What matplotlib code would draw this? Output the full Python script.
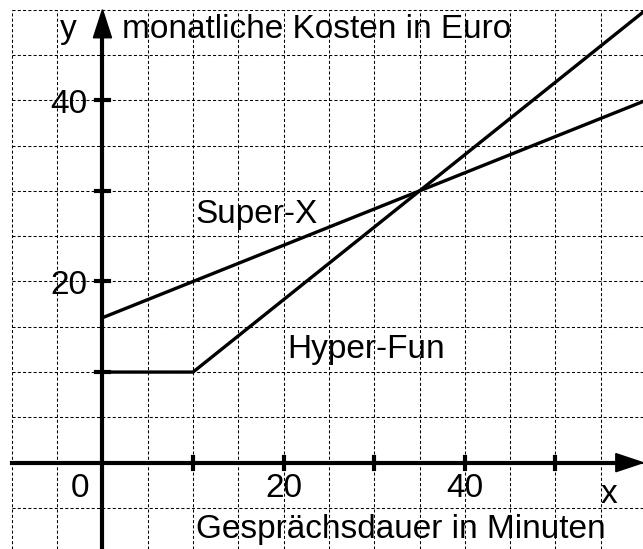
import numpy as np
import matplotlib
matplotlib.use("Agg")
import matplotlib.pyplot as plt
from matplotlib.patches import Polygon

plt.rcParams['font.family'] = ['Liberation Sans', 'DejaVu Sans']
plt.rcParams['lines.scale_dashes'] = False

# --- Daten ---
super_x_min = [0, 60]
super_x_kosten = [16, 40]
hyper_min = [0, 10, 60]
hyper_kosten = [10, 10, 50]

x_ticks = [10, 20, 30, 40, 50]
y_ticks = [10, 20, 30, 40]
x_labels = [0, 20, 40]
y_labels = [20, 40]

# Sichtbereich (px -> Einheiten, ca. 9.06 px pro Einheit)
XMIN, XMAX = -11.31, 59.66
YMIN, YMAX = -9.53, 51.07

fig = plt.figure(figsize=(6.43, 5.49), dpi=100)
ax = fig.add_axes([0, 0, 1, 1])
ax.set_xlim(XMIN, XMAX)
ax.set_ylim(YMIN, YMAX)
ax.axis('off')

# Gitter (gestrichelt)
grid_kw = dict(color='black', linewidth=0.75, linestyle=(0, (2.2, 1.6)), zorder=1)
for gx in np.arange(-10, 60, 5):
    ax.plot([gx, gx], [YMIN, 50], **grid_kw)
for gy in np.arange(-5, 55, 5):
    ax.plot([-10, XMAX], [gy, gy], **grid_kw)

# Achsen
ax.plot([-10, XMAX - 2.5], [0, 0], color='black', linewidth=3.0, zorder=3)
ax.plot([0, 0], [YMIN, 50 - 2.5], color='black', linewidth=3.0, zorder=3)
ax.add_patch(Polygon([[XMAX, 0], [XMAX - 3.0, 1.0], [XMAX - 3.0, -1.0]],
                     closed=True, color='black', zorder=3))
ax.add_patch(Polygon([[0, 50], [-1.0, 46.9], [1.0, 46.9]],
                     closed=True, color='black', zorder=3))

# Striche
for t in x_ticks:
    ax.plot([t, t], [-0.65, 0.65], color='black', linewidth=3.0, zorder=3)
for t in y_ticks:
    ax.plot([-0.7, 0.7], [t, t], color='black', linewidth=3.0, zorder=3)

# Graphen
ax.plot(super_x_min, super_x_kosten, color='black', linewidth=2.4, zorder=4)
ax.plot(hyper_min, hyper_kosten, color='black', linewidth=2.4, zorder=4)

fs = 24
for v in x_labels:
    xp = -2.5 if v == 0 else v
    ax.text(xp, -2.9, str(v), fontsize=fs, ha='center', va='center', zorder=5)
for v in y_labels:
    ax.text(-1.7, v - 0.45, str(v), fontsize=fs, ha='right', va='center', zorder=5)

ax.text(-4.7, 46.9, 'y', fontsize=fs, ha='left', va='baseline', zorder=5)
ax.text(2.15, 46.9, 'monatliche Kosten in Euro', fontsize=fs, ha='left', va='baseline', zorder=5)
ax.text(55.9, -4.45, 'x', fontsize=fs, ha='center', va='baseline', zorder=5)
ax.text(10.3, -8.3, 'Gesprächsdauer in Minuten', fontsize=fs, ha='left', va='baseline', zorder=5)
ax.text(10.3, 26.5, 'Super-X', fontsize=fs, ha='left', va='baseline', zorder=5)
ax.text(20.4, 11.55, 'Hyper-Fun', fontsize=fs, ha='left', va='baseline', zorder=5)

fig.savefig('out.png', dpi=100)
